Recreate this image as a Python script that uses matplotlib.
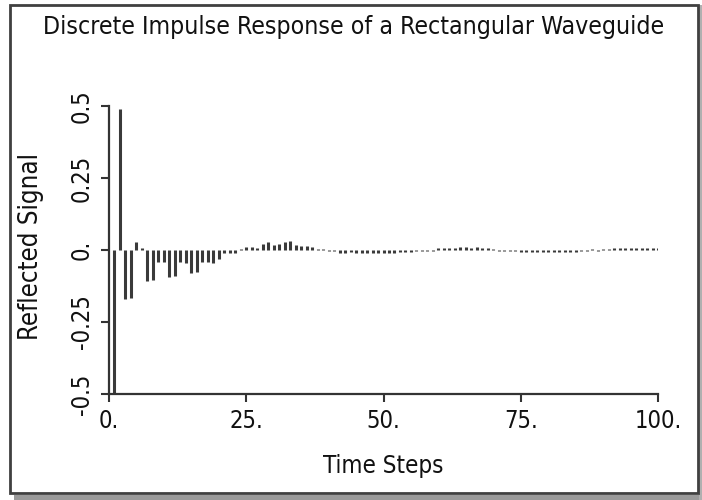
import matplotlib
matplotlib.use("Agg")
import matplotlib.pyplot as plt
from matplotlib.patches import Rectangle
from matplotlib import font_manager
from matplotlib.font_manager import FontProperties

# ---- data ----
steps = list(range(1, 101))
values = [
    -0.5, 0.49, -0.17, -0.165, 0.028, 0.008, -0.108, -0.104, -0.04, -0.042,
    -0.094, -0.09, -0.042, -0.045, -0.08, -0.075, -0.04, -0.04, -0.045, -0.03,
    -0.01, -0.01, -0.012, 0.004, 0.012, 0.012, 0.008, 0.02, 0.028, 0.018,
    0.02, 0.028, 0.03, 0.018, 0.015, 0.015, 0.01, 0.005, 0.003, -0.003,
    -0.003, -0.01, -0.012, -0.008, -0.01, -0.012, -0.01, -0.012, -0.012, -0.01,
    -0.012, -0.01, -0.008, -0.008, -0.006, -0.003, -0.003, -0.003, -0.003, 0.006,
    0.008, 0.008, 0.006, 0.01, 0.012, 0.008, 0.01, 0.008, 0.006, 0.003,
    -0.003, -0.003, -0.003, -0.003, -0.006, -0.008, -0.008, -0.008, -0.008, -0.008,
    -0.008, -0.008, -0.008, -0.006, -0.006, -0.003, -0.003, 0.003, -0.003, 0.003,
    0.003, 0.008, 0.008, 0.008, 0.008, 0.008, 0.008, 0.008, 0.008, 0.008,
]
xticks = [0, 25, 50, 75, 100]
xticklabels = ["0.", "25.", "50.", "75.", "100."]
yticks = [-0.5, -0.25, 0, 0.25, 0.5]
yticklabels = ["-0.5", "-0.25", "0.", "0.25", "0.5"]
title = "Discrete Impulse Response of a Rectangular Waveguide"
xlabel = "Time Steps"
ylabel = "Reflected Signal"

# look for a narrow / condensed sans face
narrow = None
for f in font_manager.fontManager.ttflist:
    fn = f.fname.lower()
    if ("narrow" in fn or "condensed" in fn) and "bold" not in fn and "oblique" not in fn \
            and "italic" not in fn and "light" not in fn and "mono" not in fn and "serif" not in fn:
        narrow = f.fname
        break
plt.rcParams["font.family"] = ["Liberation Sans", "DejaVu Sans"]


def fp(size):
    if narrow:
        return FontProperties(fname=narrow, size=size)
    return FontProperties(family="Liberation Sans", size=size * 0.92)


W, H = 702, 500
fig = plt.figure(figsize=(W / 100, H / 100), dpi=100)
fig.patch.set_facecolor("white")

# outer frame and shadow
fig.patches.append(Rectangle((14 / W, 0), (W - 14) / W, 5 / H, transform=fig.transFigure,
                             facecolor="#9a9a9a", edgecolor="none"))
fig.patches.append(Rectangle((699 / W, 0), 3 / W, 495 / H, transform=fig.transFigure,
                             facecolor="#b0b0b0", edgecolor="none"))
fig.patches.append(Rectangle((10 / W, (H - 493) / H), 688 / W, 488 / H, transform=fig.transFigure,
                             facecolor="none", edgecolor="#404040", linewidth=2))

ax = fig.add_axes([109 / W, (H - 394) / H, (658 - 109) / W, (394 - 106) / H])
ax.vlines(steps, 0, values, colors="#3a3a3a", linewidth=2.2)
ax.set_xlim(0, 100)
ax.set_ylim(-0.5, 0.5)
for s in ["top", "right"]:
    ax.spines[s].set_visible(False)
for s in ["left", "bottom"]:
    ax.spines[s].set_color("#333333")
    ax.spines[s].set_linewidth(1.6)
ax.set_xticks(xticks)
ax.set_yticks(yticks)
ax.set_xticklabels(xticklabels, fontproperties=fp(17))
ax.set_yticklabels(yticklabels, rotation=90, va="center", fontproperties=fp(17))
ax.tick_params(axis="x", direction="out", length=6, width=1.5, color="#333333",
               labelcolor="#111111", pad=5)
ax.tick_params(axis="y", direction="out", length=6, width=1.5, color="#333333",
               labelcolor="#111111", pad=5)

fig.text(354 / W, 1 - 27 / H, title, ha="center", va="center", color="#111111",
         fontproperties=fp(17.8))
fig.text(383 / W, 1 - 466 / H, xlabel, ha="center", va="center", color="#111111",
         fontproperties=fp(17.3))
fig.text(31 / W, 1 - 247 / H, ylabel, ha="center", va="center", rotation=90, color="#111111",
         fontproperties=fp(18.5))

fig.savefig("out.png", dpi=100, facecolor="white")
